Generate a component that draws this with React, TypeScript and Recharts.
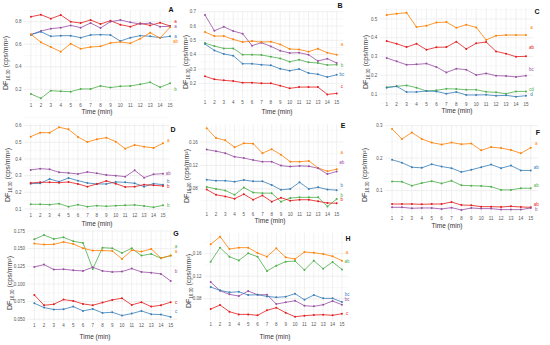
// Eight small DF(16.30) vs time panels, ggplot-like look
import React from 'react';
import { LineChart, Line, XAxis, YAxis, CartesianGrid, ReferenceDot } from 'recharts';

const times = [1, 2, 3, 4, 5, 6, 7, 8, 9, 10, 11, 12, 13, 14, 15];

// ---- panel A
const aRed = [0.844, 0.862, 0.827, 0.859, 0.8, 0.788, 0.815, 0.779, 0.809, 0.773, 0.756, 0.785, 0.767, 0.791, 0.762];
const aPurple = [0.685, 0.717, 0.738, 0.747, 0.767, 0.747, 0.788, 0.744, 0.8, 0.815, 0.794, 0.779, 0.788, 0.756, 0.759];
const aBlue = [0.685, 0.711, 0.67, 0.676, 0.676, 0.658, 0.682, 0.685, 0.682, 0.628, 0.658, 0.676, 0.67, 0.658, 0.67];
const aOrange = [0.688, 0.617, 0.575, 0.534, 0.605, 0.56, 0.575, 0.581, 0.611, 0.62, 0.608, 0.649, 0.702, 0.655, 0.75];
const aGreen = [0.159, 0.12, 0.188, 0.182, 0.179, 0.203, 0.203, 0.23, 0.215, 0.227, 0.23, 0.244, 0.262, 0.218, 0.253];
const aLabelText = ['a', 'a', 'a', 'ab', 'b'];
const aLabelSeries = ['red', 'purple', 'blue', 'orange', 'green'];
const aLabelY = [0.8, 0.758, 0.67, 0.622, 0.203];

// ---- panel B
const bPurple = [0.677, 0.567, 0.595, 0.565, 0.547, 0.463, 0.484, 0.458, 0.428, 0.412, 0.414, 0.4, 0.356, 0.372, 0.342];
const bOrange = [0.558, 0.53, 0.53, 0.507, 0.488, 0.495, 0.488, 0.491, 0.472, 0.44, 0.437, 0.421, 0.442, 0.414, 0.4];
const bGreen = [0.481, 0.46, 0.444, 0.444, 0.4, 0.4, 0.398, 0.386, 0.374, 0.351, 0.365, 0.347, 0.342, 0.328, 0.33];
const bBlue = [0.474, 0.43, 0.405, 0.393, 0.337, 0.337, 0.33, 0.326, 0.302, 0.288, 0.3, 0.272, 0.263, 0.244, 0.26];
const bRed = [0.249, 0.228, 0.221, 0.216, 0.205, 0.205, 0.2, 0.2, 0.184, 0.165, 0.174, 0.174, 0.174, 0.123, 0.13];
const bLabelText = ['a', 'b', 'bc', 'c'];
const bLabelSeries = ['orange', 'green', 'blue', 'red'];
const bLabelY = [0.472, 0.323, 0.265, 0.181];

// ---- panel C
const cOrange = [0.521, 0.528, 0.533, 0.457, 0.464, 0.481, 0.483, 0.453, 0.469, 0.455, 0.388, 0.411, 0.414, 0.414, 0.414];
const cRed = [0.382, 0.368, 0.35, 0.368, 0.336, 0.349, 0.35, 0.379, 0.34, 0.37, 0.377, 0.327, 0.315, 0.299, 0.301];
const cPurple = [0.292, 0.274, 0.256, 0.258, 0.262, 0.244, 0.215, 0.235, 0.23, 0.201, 0.21, 0.198, 0.196, 0.191, 0.198];
const cGreen = [0.136, 0.141, 0.146, 0.134, 0.116, 0.12, 0.128, 0.127, 0.123, 0.123, 0.112, 0.109, 0.102, 0.114, 0.114];
const cBlue = [0.134, 0.141, 0.111, 0.111, 0.116, 0.114, 0.102, 0.111, 0.095, 0.095, 0.096, 0.091, 0.093, 0.086, 0.091];
const cLabelText = ['a', 'ab', 'bc', 'cd', 'd'];
const cLabelSeries = ['orange', 'red', 'purple', 'green', 'blue'];
const cLabelY = [0.457, 0.347, 0.23, 0.124, 0.1];

// ---- panel D
const dOrange = [0.534, 0.558, 0.558, 0.59, 0.578, 0.532, 0.502, 0.518, 0.528, 0.504, 0.462, 0.484, 0.474, 0.466, 0.494];
const dPurple = [0.334, 0.342, 0.338, 0.32, 0.316, 0.31, 0.322, 0.314, 0.304, 0.3, 0.294, 0.332, 0.288, 0.308, 0.312];
const dBlue = [0.252, 0.254, 0.28, 0.264, 0.286, 0.27, 0.256, 0.25, 0.25, 0.262, 0.26, 0.254, 0.234, 0.252, 0.246];
const dRed = [0.256, 0.26, 0.26, 0.258, 0.262, 0.25, 0.234, 0.25, 0.268, 0.252, 0.232, 0.234, 0.246, 0.242, 0.238];
const dGreen = [0.128, 0.128, 0.126, 0.132, 0.114, 0.126, 0.114, 0.12, 0.116, 0.12, 0.122, 0.124, 0.118, 0.11, 0.122];
const dLabelText = ['a', 'ab', 'b', 'b', 'b'];
const dLabelSeries = ['orange', 'purple', 'blue', 'red', 'green'];
const dLabelY = [0.514, 0.312, 0.264, 0.236, 0.12];

// ---- panel E
const eOrange = [0.1835, 0.1667, 0.1628, 0.151, 0.1578, 0.1572, 0.141, 0.1477, 0.1382, 0.1264, 0.1264, 0.1276, 0.1158, 0.11, 0.1136];
const ePurple = [0.1471, 0.1443, 0.141, 0.1348, 0.1326, 0.1292, 0.1264, 0.1264, 0.1197, 0.118, 0.1192, 0.1186, 0.1152, 0.1052, 0.1097];
const eBlue = [0.0957, 0.094, 0.094, 0.0923, 0.0951, 0.0929, 0.0929, 0.0867, 0.0783, 0.08, 0.0912, 0.08, 0.0828, 0.0789, 0.0778];
const eGreen = [0.0834, 0.08, 0.0772, 0.0699, 0.0822, 0.0738, 0.0727, 0.0727, 0.0582, 0.0643, 0.0655, 0.0655, 0.0655, 0.0498, 0.0627];
const eRed = [0.0789, 0.0699, 0.0671, 0.0632, 0.071, 0.0615, 0.0688, 0.0582, 0.0649, 0.0599, 0.0615, 0.0615, 0.0587, 0.056, 0.0554];
const eLabelText = ['a', 'ab', 'b', 'b', 'b'];
const eLabelSeries = ['orange', 'purple', 'blue', 'green', 'red'];
const eLabelY = [0.1415, 0.1248, 0.0867, 0.0695, 0.0615];

// ---- panel F
const fOrange = [0.29, 0.259, 0.279, 0.259, 0.248, 0.242, 0.248, 0.243, 0.245, 0.224, 0.234, 0.231, 0.225, 0.215, 0.232];
const fBlue = [0.195, 0.186, 0.172, 0.17, 0.181, 0.174, 0.169, 0.157, 0.164, 0.172, 0.18, 0.169, 0.177, 0.162, 0.162];
const fGreen = [0.128, 0.127, 0.115, 0.123, 0.129, 0.122, 0.13, 0.116, 0.115, 0.114, 0.112, 0.102, 0.102, 0.107, 0.107];
const fRed = [0.0584, 0.0584, 0.0584, 0.0574, 0.0584, 0.0584, 0.0645, 0.0553, 0.0543, 0.0503, 0.0503, 0.0492, 0.0513, 0.0492, 0.0482];
const fPurple = [0.0482, 0.0482, 0.0452, 0.0462, 0.0462, 0.0431, 0.0472, 0.0401, 0.0462, 0.0442, 0.0442, 0.0411, 0.0411, 0.0411, 0.0462];
const fLabelText = ['a', 'ab', 'ab', 'ab', 'b'];
const fLabelSeries = ['orange', 'blue', 'green', 'red', 'purple'];
const fLabelY = [0.244, 0.172, 0.115, 0.057, 0.041];

// ---- panel G
const gGreen = [0.1632, 0.1693, 0.1637, 0.166, 0.1604, 0.158, 0.1212, 0.1514, 0.1505, 0.1439, 0.1505, 0.1401, 0.1425, 0.1363, 0.1401];
const gOrange = [0.1571, 0.1557, 0.1561, 0.1594, 0.1566, 0.1505, 0.1472, 0.1472, 0.1467, 0.1354, 0.1476, 0.1458, 0.1495, 0.1368, 0.1401];
const gPurple = [0.1241, 0.1274, 0.1203, 0.1208, 0.1193, 0.1184, 0.1236, 0.1184, 0.117, 0.1175, 0.1217, 0.117, 0.116, 0.1142, 0.1042];
const gRed = [0.0844, 0.0698, 0.0712, 0.0778, 0.0759, 0.0717, 0.0698, 0.0736, 0.0774, 0.0797, 0.0703, 0.0741, 0.0679, 0.0698, 0.0741];
const gBlue = [0.0726, 0.0665, 0.0637, 0.0642, 0.0679, 0.0618, 0.0646, 0.059, 0.0599, 0.0552, 0.058, 0.0618, 0.0571, 0.0566, 0.0533];
const gLabelText = ['a', 'a', 'b', 'c', 'c'];
const gLabelSeries = ['green', 'orange', 'purple', 'red', 'blue'];
const gLabelY = [0.1525, 0.1466, 0.1184, 0.0741, 0.0613];

// ---- panel H
const hOrange = [0.1766, 0.1902, 0.1683, 0.1707, 0.1707, 0.1612, 0.1547, 0.1695, 0.1535, 0.1505, 0.163, 0.1618, 0.1594, 0.1553, 0.1476];
const hGreen = [0.1458, 0.1707, 0.1547, 0.1481, 0.1606, 0.1547, 0.1292, 0.1387, 0.1458, 0.147, 0.131, 0.1476, 0.1333, 0.1452, 0.1321];
const hPurple = [0.1096, 0.0942, 0.0877, 0.0847, 0.0936, 0.0871, 0.0871, 0.0705, 0.0735, 0.0764, 0.0676, 0.0664, 0.0693, 0.0759, 0.0693];
const hBlue = [0.1007, 0.0948, 0.0913, 0.0924, 0.0865, 0.0871, 0.0841, 0.0824, 0.0836, 0.0889, 0.0782, 0.0865, 0.0806, 0.0806, 0.0741];
const hRed = [0.0616, 0.0687, 0.0569, 0.0521, 0.0521, 0.0504, 0.0593, 0.064, 0.0551, 0.048, 0.0498, 0.051, 0.0516, 0.0504, 0.0533];
const hLabelText = ['a', 'ab', 'bc', 'bc', 'c'];
const hLabelSeries = ['orange', 'green', 'blue', 'purple', 'red'];
const hLabelY = [0.1624, 0.1458, 0.0875, 0.079, 0.0533];

const COLORS: Record<string, string> = {
  red: '#E41A1C',
  blue: '#377EB8',
  green: '#4DAF4A',
  purple: '#984EA3',
  orange: '#FF7F00',
};

const FONT = '"Liberation Sans", Arial, sans-serif';

// layout: box = chart div, plot = inner plotting rect (page px)
const panels = [
  {
    id: 'A', series: { red: aRed, purple: aPurple, blue: aBlue, orange: aOrange, green: aGreen },
    labels: { text: aLabelText, series: aLabelSeries, y: aLabelY },
    yDomain: [0.09, 0.9], yTicks: [0.2, 0.4, 0.6, 0.8], digits: 1,
    box: { x: 0, y: 0, w: 180, h: 108 }, plot: { l: 24, r: 177, t: 10.4, b: 101.7 },
    title: { x: 7, y: 63 }, xlab: { x: 97, y: 112 }, letter: { x: 171, y: 9 },
  },
  {
    id: 'B', series: { purple: bPurple, orange: bOrange, green: bGreen, blue: bBlue, red: bRed },
    labels: { text: bLabelText, series: bLabelSeries, y: bLabelY },
    yDomain: [0.095, 0.705], yTicks: [0.2, 0.3, 0.4, 0.5, 0.6, 0.7], digits: 1,
    box: { x: 180, y: 0, w: 180, h: 108 }, plot: { l: 198.4, r: 343.3, t: 11, b: 98.4 },
    title: { x: 187, y: 62 }, xlab: { x: 277, y: 112 }, letter: { x: 340, y: 5 },
  },
  {
    id: 'C', series: { orange: cOrange, red: cRed, purple: cPurple, green: cGreen, blue: cBlue },
    labels: { text: cLabelText, series: cLabelSeries, y: cLabelY },
    yDomain: [0.064, 0.555], yTicks: [0.1, 0.2, 0.3, 0.4, 0.5], digits: 1,
    box: { x: 360, y: 0, w: 190, h: 108 }, plot: { l: 379.7, r: 532.9, t: 8.6, b: 100.8 },
    title: { x: 367, y: 62 }, xlab: { x: 457, y: 111 }, letter: { x: 537, y: 11 },
  },
  {
    id: 'D', series: { orange: dOrange, purple: dPurple, blue: dBlue, red: dRed, green: dGreen },
    labels: { text: dLabelText, series: dLabelSeries, y: dLabelY },
    yDomain: [0.086, 0.614], yTicks: [0.1, 0.2, 0.3, 0.4, 0.5, 0.6], digits: 1,
    box: { x: 0, y: 110, w: 180, h: 112 }, plot: { l: 24.1, r: 169.6, t: 123.3, b: 211.3 },
    title: { x: 9, y: 175 }, xlab: { x: 97, y: 224 }, letter: { x: 173, y: 129 },
  },
  {
    id: 'E', series: { orange: eOrange, purple: ePurple, blue: eBlue, green: eGreen, red: eRed },
    labels: { text: eLabelText, series: eLabelSeries, y: eLabelY },
    yDomain: [0.0431, 0.1902], yTicks: [0.08, 0.12, 0.16], digits: 2,
    box: { x: 180, y: 110, w: 180, h: 110 }, plot: { l: 200.2, r: 343.2, t: 124.3, b: 210.5 },
    title: { x: 188, y: 176 }, xlab: { x: 270, y: 221 }, letter: { x: 343, y: 125 },
  },
  {
    id: 'F', series: { orange: fOrange, blue: fBlue, green: fGreen, red: fRed, purple: fPurple },
    labels: { text: fLabelText, series: fLabelSeries, y: fLabelY },
    yDomain: [0.0276, 0.3025], yTicks: [0.1, 0.2, 0.3], digits: 1,
    box: { x: 360, y: 110, w: 190, h: 114 }, plot: { l: 385.1, r: 537.7, t: 124.9, b: 214 },
    title: { x: 366, y: 175 }, xlab: { x: 447, y: 225.5 }, letter: { x: 538, y: 132 },
  },
  {
    id: 'G', series: { green: gGreen, orange: gOrange, purple: gPurple, red: gRed, blue: gBlue },
    labels: { text: gLabelText, series: gLabelSeries, y: gLabelY },
    yDomain: [0.0475, 0.1751], yTicks: [0.05, 0.075, 0.1, 0.125, 0.15, 0.175], digits: 3,
    box: { x: 0, y: 225, w: 180, h: 120 }, plot: { l: 27.5, r: 177.5, t: 230.9, b: 321 },
    title: { x: 11, y: 283 }, xlab: { x: 95, y: 337 }, letter: { x: 176, y: 233 },
  },
  {
    id: 'H', series: { orange: hOrange, green: hGreen, purple: hPurple, blue: hBlue, red: hRed },
    labels: { text: hLabelText, series: hLabelSeries, y: hLabelY },
    yDomain: [0.0409, 0.1973], yTicks: [0.08, 0.12, 0.16], digits: 2,
    box: { x: 180, y: 225, w: 180, h: 120 }, plot: { l: 204.1, r: 348.5, t: 232.7, b: 320.7 },
    title: { x: 190, y: 281 }, xlab: { x: 275, y: 337 }, letter: { x: 348, y: 238 },
  },
];

const xMinor = times.slice(1).map((t) => t - 0.5);

function minorOf(ticks: number[]) {
  const step = ticks[1] - ticks[0];
  const out: number[] = [ticks[0] - step / 2];
  ticks.forEach((t) => out.push(t + step / 2));
  return out;
}

function Panel({ p }: { p: any }) {
  const keys = Object.keys(p.series);
  const rows = times.map((t, i) => {
    const row: any = { t };
    keys.forEach((k) => (row[k] = p.series[k][i]));
    return row;
  });
  const { box, plot } = p;

  return (
    <div style={{ position: 'absolute', left: box.x, top: box.y, width: box.w, height: box.h }}>
      <LineChart
        width={box.w}
        height={box.h}
        data={rows}
        margin={{ top: plot.t - box.y, right: box.x + box.w - plot.r, bottom: 0, left: 0 }}
      >
        <CartesianGrid
          stroke="#f3f3f3"
          strokeWidth={0.5}
          horizontalValues={minorOf(p.yTicks)}
          verticalValues={xMinor}
        />
        <CartesianGrid
          stroke="#e6e6e6"
          strokeWidth={0.6}
          horizontalValues={p.yTicks}
          verticalValues={times}
        />
        <XAxis
          dataKey="t"
          type="number"
          domain={[0.3, 15.7]}
          ticks={times}
          interval={0}
          height={box.y + box.h - plot.b}
          tick={{ fontSize: 4.5, fill: '#555', fontFamily: FONT }}
          tickLine={false}
          axisLine={false}
          tickSize={0}
          tickMargin={2.5}
          allowDataOverflow
        />
        <YAxis
          type="number"
          domain={p.yDomain}
          ticks={p.yTicks}
          interval={0}
          width={plot.l - box.x}
          tick={{ fontSize: 4.5, fill: '#555', fontFamily: FONT }}
          tickFormatter={(v: number) => v.toFixed(p.digits)}
          tickLine={false}
          axisLine={false}
          tickSize={0}
          tickMargin={2.5}
          allowDataOverflow
        />
        {keys.map((k) => (
          <Line
            key={k}
            dataKey={k}
            type="linear"
            stroke={COLORS[k]}
            strokeWidth={0.8}
            dot={{ r: 1, fill: COLORS[k], stroke: 'none' }}
            isAnimationActive={false}
          />
        ))}
        {p.labels.text.map((txt: string, i: number) => (
          <ReferenceDot
            key={'lab' + i}
            x={15.55}
            y={p.labels.y[i]}
            r={0}
            fill="none"
            stroke="none"
            ifOverflow="visible"
            label={{
              value: txt,
              position: 'center',
              fill: COLORS[p.labels.series[i]],
              fontSize: 4.5,
              fontFamily: FONT,
            }}
          />
        ))}
      </LineChart>
    </div>
  );
}

function Texts({ p }: { p: any }) {
  const center: React.CSSProperties = {
    position: 'absolute',
    whiteSpace: 'nowrap',
    fontFamily: FONT,
    lineHeight: 1,
  };
  return (
    <>
      <div
        style={{
          ...center,
          left: p.title.x,
          top: p.title.y,
          fontSize: 7,
          color: '#333',
          transform: 'translate(-50%, -50%) rotate(-90deg)',
        }}
      >
        DF<sub style={{ fontSize: 4.5, verticalAlign: 'sub' }}>16.30</sub> (cps/mm²)
      </div>
      <div
        style={{
          ...center,
          left: p.xlab.x,
          top: p.xlab.y,
          fontSize: 6.5,
          color: '#333',
          transform: 'translate(-50%, -50%)',
        }}
      >
        Time (min)
      </div>
      <div
        style={{
          ...center,
          left: p.letter.x,
          top: p.letter.y,
          fontSize: 7,
          fontWeight: 700,
          color: '#111',
          transform: 'translate(-50%, -50%)',
        }}
      >
        {p.id}
      </div>
    </>
  );
}

export default function App() {
  return (
    <div
      style={{
        position: 'absolute',
        left: 0,
        top: 0,
        width: 550,
        height: 345,
        background: '#fff',
        overflow: 'hidden',
      }}
    >
      {panels.map((p) => (
        <Panel key={p.id} p={p} />
      ))}
      {panels.map((p) => (
        <Texts key={'t' + p.id} p={p} />
      ))}
    </div>
  );
}
